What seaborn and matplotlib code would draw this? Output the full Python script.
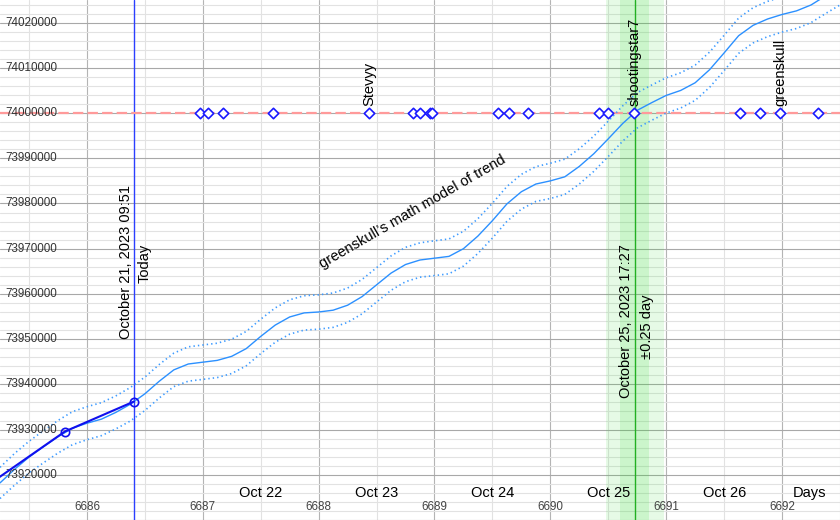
import matplotlib
matplotlib.use("Agg")
import matplotlib.pyplot as plt
import matplotlib.transforms as mtransforms
from matplotlib.ticker import MultipleLocator
import seaborn as sns
import pandas as pd

# ---------------- data ----------------
model_days = [6685.250, 6685.375, 6685.500, 6685.625, 6685.750, 6685.875,
              6686.000, 6686.125, 6686.250, 6686.375, 6686.500, 6686.625, 6686.750, 6686.875,
              6687.000, 6687.125, 6687.250, 6687.375, 6687.500, 6687.625, 6687.750, 6687.875,
              6688.000, 6688.125, 6688.250, 6688.375, 6688.500, 6688.625, 6688.750, 6688.875,
              6689.000, 6689.125, 6689.250, 6689.375, 6689.500, 6689.625, 6689.750, 6689.875,
              6690.000, 6690.125, 6690.250, 6690.375, 6690.500, 6690.625, 6690.750, 6690.875,
              6691.000, 6691.125, 6691.250, 6691.375, 6691.500, 6691.625, 6691.750, 6691.875,
              6692.000, 6692.125, 6692.250, 6692.375, 6692.500]
model_center = [73918200, 73921200, 73923900, 73926200, 73928400, 73930300,
                73931400, 73932300, 73933800, 73935600, 73937900, 73940700, 73943200, 73944500,
                73944900, 73945300, 73946200, 73947900, 73950600, 73953100, 73954900, 73955800,
                73956000, 73956400, 73957500, 73959400, 73962000, 73964600, 73966500, 73967500,
                73967900, 73968300, 73970000, 73972800, 73976200, 73979900, 73982600, 73984300,
                73985000, 73985900, 73988200, 73991000, 73994300, 73997700, 74000600, 74002300,
                74003900, 74005000, 74006700, 74009600, 74013300, 74017100, 74019400, 74020800,
                74021800, 74022600, 74023900, 74025900, 74027800]
model_upper = [73921650, 73924700, 73927400, 73929750, 73932000, 73933950,
               73935050, 73935950, 73937450, 73939300, 73941600, 73944400, 73946900, 73948300,
               73948700, 73949100, 73950000, 73951700, 73954400, 73956900, 73958700, 73959600,
               73959800, 73960200, 73961300, 73963200, 73965800, 73968400, 73970300, 73971300,
               73971750, 73972150, 73973850, 73976650, 73980050, 73983750, 73986450, 73988150,
               73988900, 73989800, 73992100, 73994900, 73998200, 74001600, 74004500, 74006200,
               74007800, 74008900, 74010600, 74013500, 74017200, 74021000, 74023300, 74024700,
               74025700, 74026500, 74027800, 74029800, 74031700]
model_lower = [73914750, 73917700, 73920400, 73922650, 73924800, 73926650,
               73927750, 73928650, 73930150, 73931900, 73934200, 73937000, 73939500, 73940700,
               73941100, 73941500, 73942400, 73944100, 73946800, 73949300, 73951100, 73952000,
               73952200, 73952600, 73953700, 73955600, 73958200, 73960800, 73962700, 73963700,
               73964050, 73964450, 73966150, 73968950, 73972350, 73976050, 73978750, 73980450,
               73981100, 73982000, 73984300, 73987100, 73990400, 73993800, 73996700, 73998400,
               74000000, 74001100, 74002800, 74005700, 74009400, 74013200, 74015500, 74016900,
               74017900, 74018700, 74020000, 74022000, 74023900]

observed_days = [6685.10, 6685.81, 6686.406]
observed_vals = [73916900, 73929570, 73936200]

target_value = 74000000
guess_days = [6686.976, 6687.045, 6687.174, 6687.606, 6688.435, 6688.815, 6688.876,
              6688.962, 6688.980, 6689.549, 6689.644, 6689.808, 6690.421, 6690.499,
              6690.724, 6691.639, 6691.812, 6691.984, 6692.313]
guess_vals = [74000000] * len(guess_days)
named_guessers = ["Stevyy", "shootingstar7", "greenskull"]
named_days = [6688.435, 6690.724, 6691.984]

today_day = 6686.406
today_label = "October 21, 2023 09:51"
eta_day = 6690.727
eta_label = "October 25, 2023 17:27"
eta_err = 0.25

day_ticks = [6686, 6687, 6688, 6689, 6690, 6691, 6692]
date_pos = [6687.5, 6688.5, 6689.5, 6690.5, 6691.5]
date_labels = ["Oct 22", "Oct 23", "Oct 24", "Oct 25", "Oct 26"]
value_ticks = [73920000, 73930000, 73940000, 73950000, 73960000, 73970000,
               73980000, 73990000, 74000000, 74010000, 74020000]

# ---------------- style ----------------
sns.set_theme(style="white")
plt.rcParams["font.family"] = ["Liberation Sans", "DejaVu Sans"]
plt.rcParams["lines.scale_dashes"] = False

fig = plt.figure(figsize=(8.4, 5.2), dpi=100)
ax = fig.add_axes([0, 0, 1, 1])
ax.set_xlim(6685.25, 6692.5)
ax.set_ylim(73910000, 74025000)
for s in ax.spines.values():
    s.set_visible(False)

ax.xaxis.set_major_locator(MultipleLocator(1))
ax.xaxis.set_minor_locator(MultipleLocator(0.5))
ax.yaxis.set_major_locator(MultipleLocator(10000))
ax.yaxis.set_minor_locator(MultipleLocator(2000))
ax.tick_params(which="both", length=0, labelbottom=False, labelleft=False)
ax.set_axisbelow(True)
ax.grid(which="major", axis="x", color="#b4b4b4", lw=0.8)
ax.grid(which="minor", axis="x", color="#e2e2e2", lw=0.8)
ax.grid(which="major", axis="y", color="#a8a8a8", lw=0.8)
ax.grid(which="minor", axis="y", color="#e2e2e2", lw=0.8)

# ETA band
ax.axvspan(eta_day - eta_err, eta_day + eta_err, color="#33dd33", alpha=0.12, lw=0, zorder=1)
ax.axvspan(eta_day - eta_err / 2, eta_day + eta_err / 2, color="#33dd33", alpha=0.15, lw=0, zorder=1)
ax.axvline(eta_day, color="#22b022", lw=1.0, zorder=2)
ax.axvline(today_day, color="#2b3fff", lw=1.0, zorder=2)

# target line
ax.axhline(target_value, color="#ff9a9a", lw=1.6, dashes=(7.5, 3), zorder=2)

df = pd.DataFrame({"day": model_days, "center": model_center,
                   "upper": model_upper, "lower": model_lower})
sns.lineplot(data=df, x="day", y="upper", ax=ax, color="#3d9bff", lw=1.2,
             linestyle=(0, (1, 2.2)), zorder=3)
sns.lineplot(data=df, x="day", y="lower", ax=ax, color="#3d9bff", lw=1.2,
             linestyle=(0, (1, 2.2)), zorder=3)
sns.lineplot(data=df, x="day", y="center", ax=ax, color="#2b90ff", lw=1.0, zorder=3)

sns.lineplot(x=observed_days, y=observed_vals, ax=ax, color="#1010ee", lw=1.5,
             marker="o", ms=6, mfc="none", mec="#1010ee", mew=1.2, zorder=4)

sns.scatterplot(x=guess_days, y=guess_vals, ax=ax, marker="D", s=28,
                facecolor="white", edgecolor="#1a1aff", linewidth=1.2, zorder=5)

ax.set_xlabel("")
ax.set_ylabel("")

txt_kw = dict(fontsize=10.5, color="black")
for name, d in zip(named_guessers, named_days):
    ax.annotate(name, xy=(d, target_value), xytext=(0, 5), textcoords="offset points",
                rotation=90, ha="center", va="bottom", **txt_kw)

bx = mtransforms.blended_transform_factory(ax.transData, ax.transAxes)
by = mtransforms.blended_transform_factory(ax.transAxes, ax.transData)

ax.annotate(today_label, xy=(today_day, 0.496), xycoords=bx, xytext=(-1, 0),
            textcoords="offset points", rotation=90, ha="right", va="center", **txt_kw)
ax.annotate("Today", xy=(today_day, 0.494), xycoords=bx, xytext=(3, 0),
            textcoords="offset points", rotation=90, ha="left", va="center", **txt_kw)
ax.annotate(eta_label, xy=(eta_day, 0.383), xycoords=bx, xytext=(-1, 0),
            textcoords="offset points", rotation=90, ha="right", va="center", **txt_kw)
ax.annotate("\u00b10.25 day", xy=(eta_day, 0.371), xycoords=bx, xytext=(4, 0),
            textcoords="offset points", rotation=90, ha="left", va="center", **txt_kw)

ax.text(6688.81, 73978120, "greenskull\u2019s math model of trend", rotation=30,
        rotation_mode="anchor", ha="center", va="center", **txt_kw)

for d in day_ticks:
    ax.text(d, 0.025, str(d), transform=bx, ha="center", va="center",
            fontsize=8.4, color="#444444")
for d, lab in zip(date_pos, date_labels):
    ax.text(d, 0.052, lab, transform=bx, ha="center", va="center", **txt_kw)
ax.text(0.964, 0.052, "Days", transform=ax.transAxes, ha="center", va="center", **txt_kw)
for v in value_ticks:
    ax.text(0.006, v, str(v), transform=by, ha="left", va="center",
            fontsize=8.4, color="#333333")

fig.savefig("out.png", dpi=100)
